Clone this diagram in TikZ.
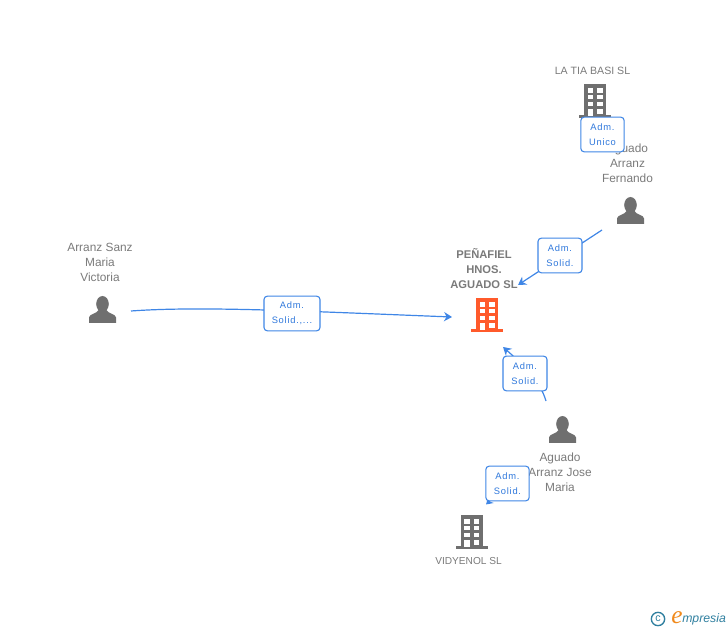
\documentclass[tikz,border=0pt]{standalone}
\usepackage{fontspec}
\setmainfont{Liberation Sans}
\newfontfamily\logoserif{Liberation Serif}
\usetikzlibrary{arrows.meta}
\definecolor{icongray}{HTML}{6F6F6F}
\definecolor{textgray}{HTML}{7A7A7A}
\definecolor{linkblue}{HTML}{3F86E6}
\definecolor{labelblue}{HTML}{2F78DC}
\definecolor{iconorange}{HTML}{FF5A2B}
\definecolor{logoteal}{HTML}{2F7F9F}
\definecolor{logoorange}{HTML}{F08A1D}
\newcommand{\buildingicon}[3]{%
  \begin{scope}[shift={(#1,#2)}]
    \fill[#3] (-11,0) rectangle (11,32);
    \fill[#3] (-16,31) rectangle (16,34);
    \foreach \yy/\hh in {4/5,11/4,18/4,25/5}{
      \fill[white] (-7.5,\yy) rectangle (-2,\yy+\hh);
      \fill[white] (2,\yy) rectangle (7.5,\yy+\hh);
    }
    \fill[white] (-7.5,25) rectangle (-2,32);
  \end{scope}}
\newcommand{\personicon}[2]{%
  \begin{scope}[shift={(#1,#2)}]
    \fill[icongray] (0,8) ellipse [x radius=6.3, y radius=8];
    \fill[icongray] (-13.5,27) -- (-13.5,21.5) .. controls (-13.5,18) and (-6,18) .. (-4,14)
      -- (4,14) .. controls (6,18) and (13.5,18) .. (13.5,21.5) -- (13.5,27) -- cycle;
  \end{scope}}
\tikzset{
  linkline/.style={draw=linkblue, line width=0.9pt, -{Stealth[length=6pt,width=7pt]}},
  edgebox/.style={draw=linkblue, fill=white, line width=0.8pt, rounded corners=2.5pt,
    inner sep=0pt, minimum height=26pt, align=center, text=labelblue,
    font=\fontsize{7}{11.25}\selectfont\addfontfeatures{LetterSpace=8}},
  personname/.style={text=textgray, align=center, inner sep=0pt,
    font=\fontsize{8.9}{11.25}\selectfont},
  capsname/.style={text=textgray, inner sep=0pt},
  boldname/.style={personname, font=\fontsize{8.4}{11.25}\selectfont\bfseries},
}
\begin{document}
\begin{tikzpicture}[x=0.75pt,y=-0.75pt]
\useasboundingbox (0,0) rectangle (728,630);
% anchors of icons
\coordinate (target) at (518,285);
\coordinate (targetbelow) at (503,347);
\coordinate (targetleft) at (452,317);
\coordinate (fernando) at (602,230);
\coordinate (jose) at (546,401);
\coordinate (joseleft) at (515,478);
\coordinate (vidyenol) at (486,504.5);
\coordinate (maria) at (131,311);
% connectors
\draw[linkline] (fernando) -- (target);
\draw[linkline] (jose) .. controls (540,380) and (520,362) .. (targetbelow);
\draw[linkline,-{Stealth[length=5pt,width=6pt]}] (joseleft) -- (vidyenol);
\draw[linkline] (maria) .. controls (200,306) and (300,311) .. (targetleft);
% icons
\buildingicon{595}{84}{icongray}
\buildingicon{487}{298}{iconorange}
\buildingicon{471.5}{515}{icongray}
\personicon{630.5}{197}
\personicon{102.5}{296}
\personicon{562.5}{416}
% names
\node[capsname, font=\fontsize{7.95}{11.25}\selectfont] (latia) at (592.5,70.5) {LA TIA BASI SL};
\node[personname] (nfernando) at (627.5,163.5) {Aguado\\Arranz\\Fernando};
\node[personname] (nmaria) at (100,262.5) {Arranz Sanz\\Maria\\Victoria};
\node[personname] (njose) at (560,472.5) {Aguado\\Arranz Jose\\Maria};
\node[capsname, font=\fontsize{7.6}{11.25}\selectfont] (nvidyenol) at (468.5,561.5) {VIDYENOL SL};
\node[boldname] (npena) at (484,268.5) {PEÑAFIEL\\HNOS.\\AGUADO SL};
% edge labels
\node[edgebox, minimum width=32.5pt] (l1) at (602.5,134.5) {Adm.\\Unico};
\node[edgebox, minimum width=33pt] (l2) at (560,255.5) {Adm.\\Solid.};
\node[edgebox, minimum width=33pt] (l3) at (525,373.5) {Adm.\\Solid.};
\node[edgebox, minimum width=32.5pt] (l4) at (507.5,483.5) {Adm.\\Solid.};
\node[edgebox, minimum width=42pt] (l5) at (292,313.5) {Adm.\\Solid.,...};
% logo
\node[circle, draw=logoteal, line width=1pt, minimum size=10pt, inner sep=0pt,
  text=logoteal, font=\fontsize{8}{8}\selectfont] (copyr) at (658,619) {c};
\node[text=logoorange, inner sep=0pt, font=\logoserif\fontsize{19}{19}\selectfont\itshape] (logoe) at (677,617.5) {e};
\node[text=logoteal, anchor=west, inner sep=0pt, font=\fontsize{9.2}{10}\selectfont\itshape] (logot) at (682,619.5) {mpresia};
\end{tikzpicture}
\end{document}
